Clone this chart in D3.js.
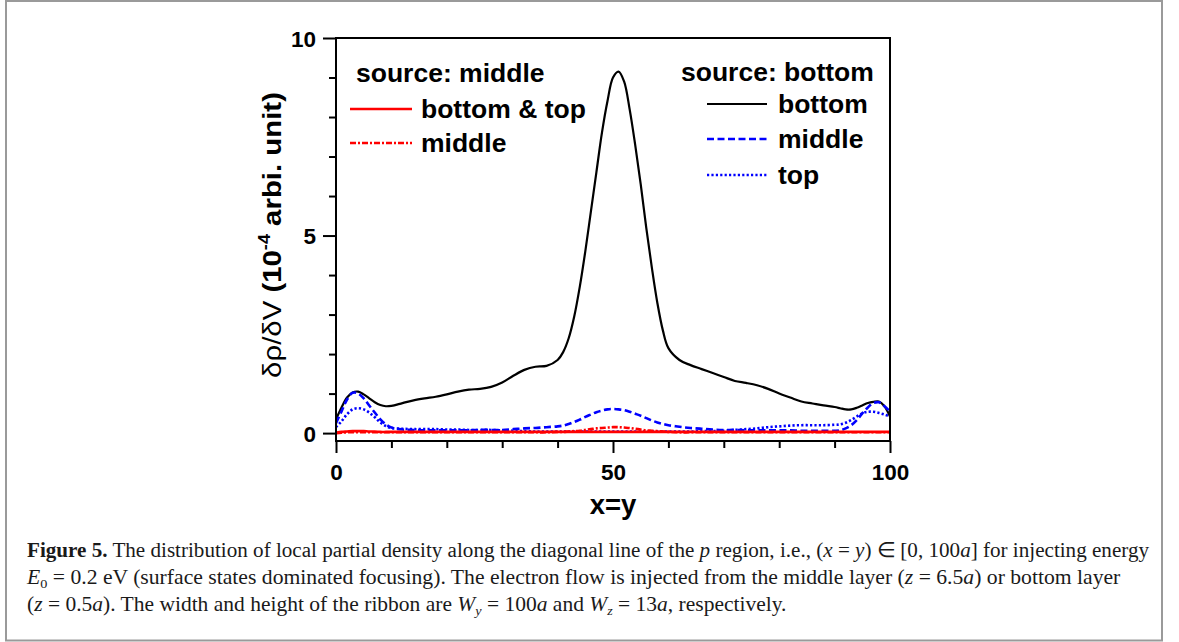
<!DOCTYPE html>
<html>
<head>
<meta charset="utf-8">
<script src="https://cdn.jsdelivr.net/npm/d3@7/dist/d3.min.js"></script>
<style>
  html, body { margin: 0; padding: 0; background: #fff; }
  svg { display: block; }
</style>
</head>
<body>
<svg id="chart" width="1179" height="642"></svg>
<script>
// ---------------- DATA ----------------
const xPositions = [0,1,2,3,4,5,6,7,8,9,10,
  12,14,16,18,20,22,24,26,28,30,32,34,36,38,40,
  41,42,43,44,45,46,47,48,49,50,51,52,53,54,55,56,57,58,59,60,
  62,64,66,68,70,72,74,76,78,80,82,84,86,88,90,
  91,92,93,94,95,96,97,98,99,100];

// source: bottom
const srcBottom_bottom = [0.35,0.65,0.9,1.03,1.05,0.98,0.88,0.78,0.71,0.68,0.69,
  0.76,0.83,0.88,0.92,0.98,1.05,1.1,1.12,1.17,1.28,1.45,1.6,1.68,1.7,1.85,
  2.05,2.4,2.95,3.7,4.6,5.6,6.6,7.6,8.4,9.0,9.15,8.9,8.2,7.3,6.3,5.2,4.2,3.3,2.6,2.15,
  1.85,1.72,1.62,1.52,1.42,1.32,1.27,1.21,1.12,1.0,0.9,0.8,0.75,0.7,0.66,
  0.63,0.6,0.6,0.64,0.7,0.76,0.79,0.8,0.68,0.42];
const srcBottom_middle = [0.25,0.55,0.85,1.02,1.0,0.88,0.7,0.52,0.35,0.22,0.14,
  0.09,0.08,0.07,0.07,0.07,0.07,0.07,0.08,0.08,0.08,0.1,0.12,0.13,0.15,0.17,
  0.19,0.23,0.28,0.34,0.41,0.47,0.53,0.57,0.6,0.61,0.6,0.58,0.54,0.49,0.44,0.38,0.32,0.27,0.23,0.2,
  0.16,0.13,0.11,0.09,0.08,0.08,0.07,0.07,0.07,0.07,0.07,0.06,0.06,0.06,0.06,
  0.07,0.12,0.2,0.33,0.5,0.65,0.76,0.78,0.68,0.55];
const srcBottom_top = [0.15,0.3,0.48,0.6,0.63,0.6,0.52,0.4,0.27,0.18,0.13,
  0.11,0.1,0.1,0.1,0.09,0.09,0.08,0.08,0.08,0.07,0.06,0.05,0.04,0.04,0.04,
  0.04,0.04,0.04,0.04,0.04,0.04,0.04,0.04,0.04,0.04,0.04,0.04,0.04,0.04,0.04,0.04,0.04,0.04,0.04,0.04,
  0.04,0.04,0.05,0.05,0.06,0.08,0.1,0.12,0.15,0.17,0.19,0.2,0.2,0.2,0.21,
  0.22,0.26,0.33,0.42,0.5,0.54,0.54,0.51,0.47,0.42];
// source: middle
const srcMiddle_bottomTop = [0.01,0.03,0.04,0.05,0.05,0.05,0.04,0.04,0.03,0.03,0.03,
  0.03,0.03,0.03,0.03,0.03,0.03,0.03,0.03,0.03,0.03,0.03,0.03,0.03,0.03,0.03,
  0.03,0.03,0.03,0.03,0.03,0.03,0.03,0.03,0.03,0.03,0.03,0.03,0.03,0.03,0.03,0.03,0.03,0.03,0.03,0.03,
  0.03,0.03,0.03,0.03,0.03,0.03,0.03,0.03,0.03,0.03,0.03,0.03,0.03,0.03,0.03,
  0.03,0.03,0.03,0.03,0.03,0.03,0.03,0.03,0.03,0.03];
const srcMiddle_middle = [0.0,0.01,0.02,0.02,0.02,0.02,0.02,0.02,0.02,0.02,0.02,
  0.02,0.02,0.02,0.02,0.02,0.02,0.02,0.02,0.02,0.02,0.02,0.02,0.02,0.02,0.03,
  0.03,0.04,0.05,0.06,0.08,0.1,0.12,0.13,0.14,0.15,0.15,0.14,0.13,0.11,0.09,0.07,0.06,0.05,0.04,0.03,
  0.02,0.02,0.02,0.02,0.02,0.02,0.02,0.02,0.02,0.02,0.02,0.02,0.02,0.02,0.02,
  0.02,0.02,0.02,0.02,0.02,0.02,0.02,0.02,0.02,0.02];

const xMajorTicks = [0, 50, 100];
const xMinorTicks = [10, 20, 30, 40, 60, 70, 80, 90];
const yMajorTicks = [0, 5, 10];
const yMinorTicks = [1, 2, 3, 4, 6, 7, 8, 9];

const legendMiddleTitle = "source: middle";
const legendMiddleLabels = ["bottom & top", "middle"];
const legendBottomTitle = "source: bottom";
const legendBottomLabels = ["bottom", "middle", "top"];

const xTitle = "x=y";

const captionLines = [
  [{t:"Figure 5.", b:1}, {t:" The distribution of local partial density along the diagonal line of the "}, {t:"p", i:1},
   {t:" region, i.e., ("}, {t:"x", i:1}, {t:" = "}, {t:"y", i:1}, {t:") ∈ [0, 100"}, {t:"a", i:1}, {t:"] for injecting energy"}],
  [{t:"E", i:1}, {t:"0", sub:1}, {t:" = 0.2 eV (surface states dominated focusing). The electron flow is injected from the middle layer ("},
   {t:"z", i:1}, {t:" = 6.5"}, {t:"a", i:1}, {t:") or bottom layer"}],
  [{t:"("}, {t:"z", i:1}, {t:" = 0.5"}, {t:"a", i:1}, {t:"). The width and height of the ribbon are "}, {t:"W", i:1}, {t:"y", i:1, sub:1},
   {t:" = 100"}, {t:"a", i:1}, {t:" and "}, {t:"W", i:1}, {t:"z", i:1, sub:1}, {t:" = 13"}, {t:"a", i:1}, {t:", respectively."}]
];

// ---------------- CHART ----------------
const svg = d3.select("#chart");
const sans = "'Liberation Sans', Arial, sans-serif";
const serif = "'Liberation Serif', 'Times New Roman', serif";

// outer figure border
svg.append("rect").attr("x", 6).attr("y", 1).attr("width", 1156).attr("height", 639.5)
  .attr("fill", "none").attr("stroke", "#9a9a9a").attr("stroke-width", 2);

const L = 336, R = 890, T = 38, B = 441;
const x = d3.scaleLinear().domain([0, 100]).range([L, R]);
const y = d3.scaleLinear().domain([-0.2, 10]).range([B, T]);

// axes
const yMajor = d3.axisLeft(y).tickValues(yMajorTicks).tickSize(13).tickPadding(7).tickFormat(d3.format("d"));
const yMinor = d3.axisLeft(y).tickValues(yMinorTicks).tickSize(7).tickFormat("");
const xMajor = d3.axisBottom(x).tickValues(xMajorTicks).tickSize(12).tickPadding(11).tickFormat(d3.format("d"));
const xMinor = d3.axisBottom(x).tickValues(xMinorTicks).tickSize(7).tickFormat("");

function styleAxis(g) {
  g.select(".domain").remove();
  g.selectAll(".tick line").attr("stroke", "#000").attr("stroke-width", 2);
  g.selectAll(".tick text").attr("fill", "#000").attr("font-family", sans)
    .attr("font-weight", "bold").attr("font-size", 22.5);
}
svg.append("g").attr("transform", `translate(${L},0)`).call(yMajor).call(styleAxis)
  .selectAll(".tick text").attr("dy", "0.36em");
svg.append("g").attr("transform", `translate(${L},0)`).call(yMinor).call(styleAxis);
svg.append("g").attr("transform", `translate(0,${B})`).call(xMajor).call(styleAxis);
svg.append("g").attr("transform", `translate(0,${B})`).call(xMinor).call(styleAxis);

// clip
svg.append("clipPath").attr("id", "clip").append("rect")
  .attr("x", L).attr("y", T).attr("width", R - L).attr("height", B - T);

const line = d3.line().curve(d3.curveCatmullRom.alpha(0.5))
  .x((d, i) => x(xPositions[i])).y(d => y(d));

const series = [
  {v: srcBottom_bottom, color: "#000", w: 2.2, dash: null},
  {v: srcBottom_middle, color: "#0000ff", w: 2.6, dash: "7,3.5"},
  {v: srcBottom_top, color: "#0000ff", w: 2.6, dash: "2.2,2.2"},
  {v: srcMiddle_bottomTop, color: "#ff0000", w: 2.6, dash: null},
  {v: srcMiddle_middle, color: "#ff0000", w: 2.6, dash: "6,2,2,2"}
];
const plot = svg.append("g").attr("clip-path", "url(#clip)");
series.forEach(s => {
  plot.append("path").datum(s.v).attr("d", line).attr("fill", "none")
    .attr("stroke", s.color).attr("stroke-width", s.w)
    .attr("stroke-dasharray", s.dash).attr("stroke-linejoin", "round");
});

// frame
svg.append("rect").attr("x", L).attr("y", T).attr("width", R - L).attr("height", B - T)
  .attr("fill", "none").attr("stroke", "#000").attr("stroke-width", 2);

// legends
const lf = 26.5;
function legText(xp, yp, txt) {
  svg.append("text").attr("x", xp).attr("y", yp).text(txt)
    .attr("font-family", sans).attr("font-weight", "bold").attr("font-size", lf).attr("fill", "#000");
}
legText(356, 82, legendMiddleTitle);
const legM = [{y: 109, s: series[3]}, {y: 143, s: series[4]}];
legM.forEach((d, i) => {
  svg.append("line").attr("x1", 350).attr("x2", 412).attr("y1", d.y).attr("y2", d.y)
    .attr("stroke", d.s.color).attr("stroke-width", d.s.w).attr("stroke-dasharray", d.s.dash);
  legText(421, d.y + 9, legendMiddleLabels[i]);
});
legText(681, 81, legendBottomTitle);
const legB = [{y: 104, s: series[0]}, {y: 139, s: series[1]}, {y: 175, s: series[2]}];
legB.forEach((d, i) => {
  svg.append("line").attr("x1", 707).attr("x2", 767).attr("y1", d.y).attr("y2", d.y)
    .attr("stroke", d.s.color).attr("stroke-width", d.s.w).attr("stroke-dasharray", d.s.dash);
  legText(778, d.y + 9, legendBottomLabels[i]);
});

// axis titles
svg.append("text").attr("x", (L + R) / 2).attr("y", 514).attr("text-anchor", "middle")
  .attr("font-family", sans).attr("font-weight", "bold").attr("font-size", 27.5).text(xTitle);

const yt = svg.append("text").attr("transform", "translate(281,235) rotate(-90)")
  .attr("text-anchor", "middle").attr("font-family", sans).attr("font-size", 26).attr("fill", "#000");
yt.append("tspan").attr("font-weight", "normal").text("δρ/δV ");
yt.append("tspan").attr("font-weight", "bold").text("(10");
yt.append("tspan").attr("font-weight", "bold").attr("font-size", 16).attr("dy", -11).text("-4");
yt.append("tspan").attr("font-weight", "bold").attr("dy", 11).text(" arbi. unit)");
{
  const w = yt.node().getComputedTextLength();
  const k = 286 / w;
  yt.attr("transform", `translate(281,235) rotate(-90) scale(${k},1)`);
}

// caption
const capX = 27, capBase = [557, 584, 611], capW = [1123, 1094, 760];
captionLines.forEach((segs, li) => {
  const g = svg.append("g");
  const t = g.append("text").attr("x", 0).attr("y", 0)
    .attr("font-family", serif).attr("font-size", 20.5).attr("fill", "#1a1a1a");
  let shifted = false;
  segs.forEach(s => {
    const ts = t.append("tspan").text(s.t);
    if (s.b) ts.attr("font-weight", "bold");
    if (s.i) ts.attr("font-style", "italic");
    if (s.sub) { ts.attr("font-size", 13.5).attr("dy", 4); shifted = true; }
    else if (shifted) { ts.attr("dy", -4); shifted = false; }
  });
  const w = t.node().getComputedTextLength();
  g.attr("transform", `translate(${capX},${capBase[li]}) scale(${capW[li] / w},1)`);
});
</script>
</body>
</html>
